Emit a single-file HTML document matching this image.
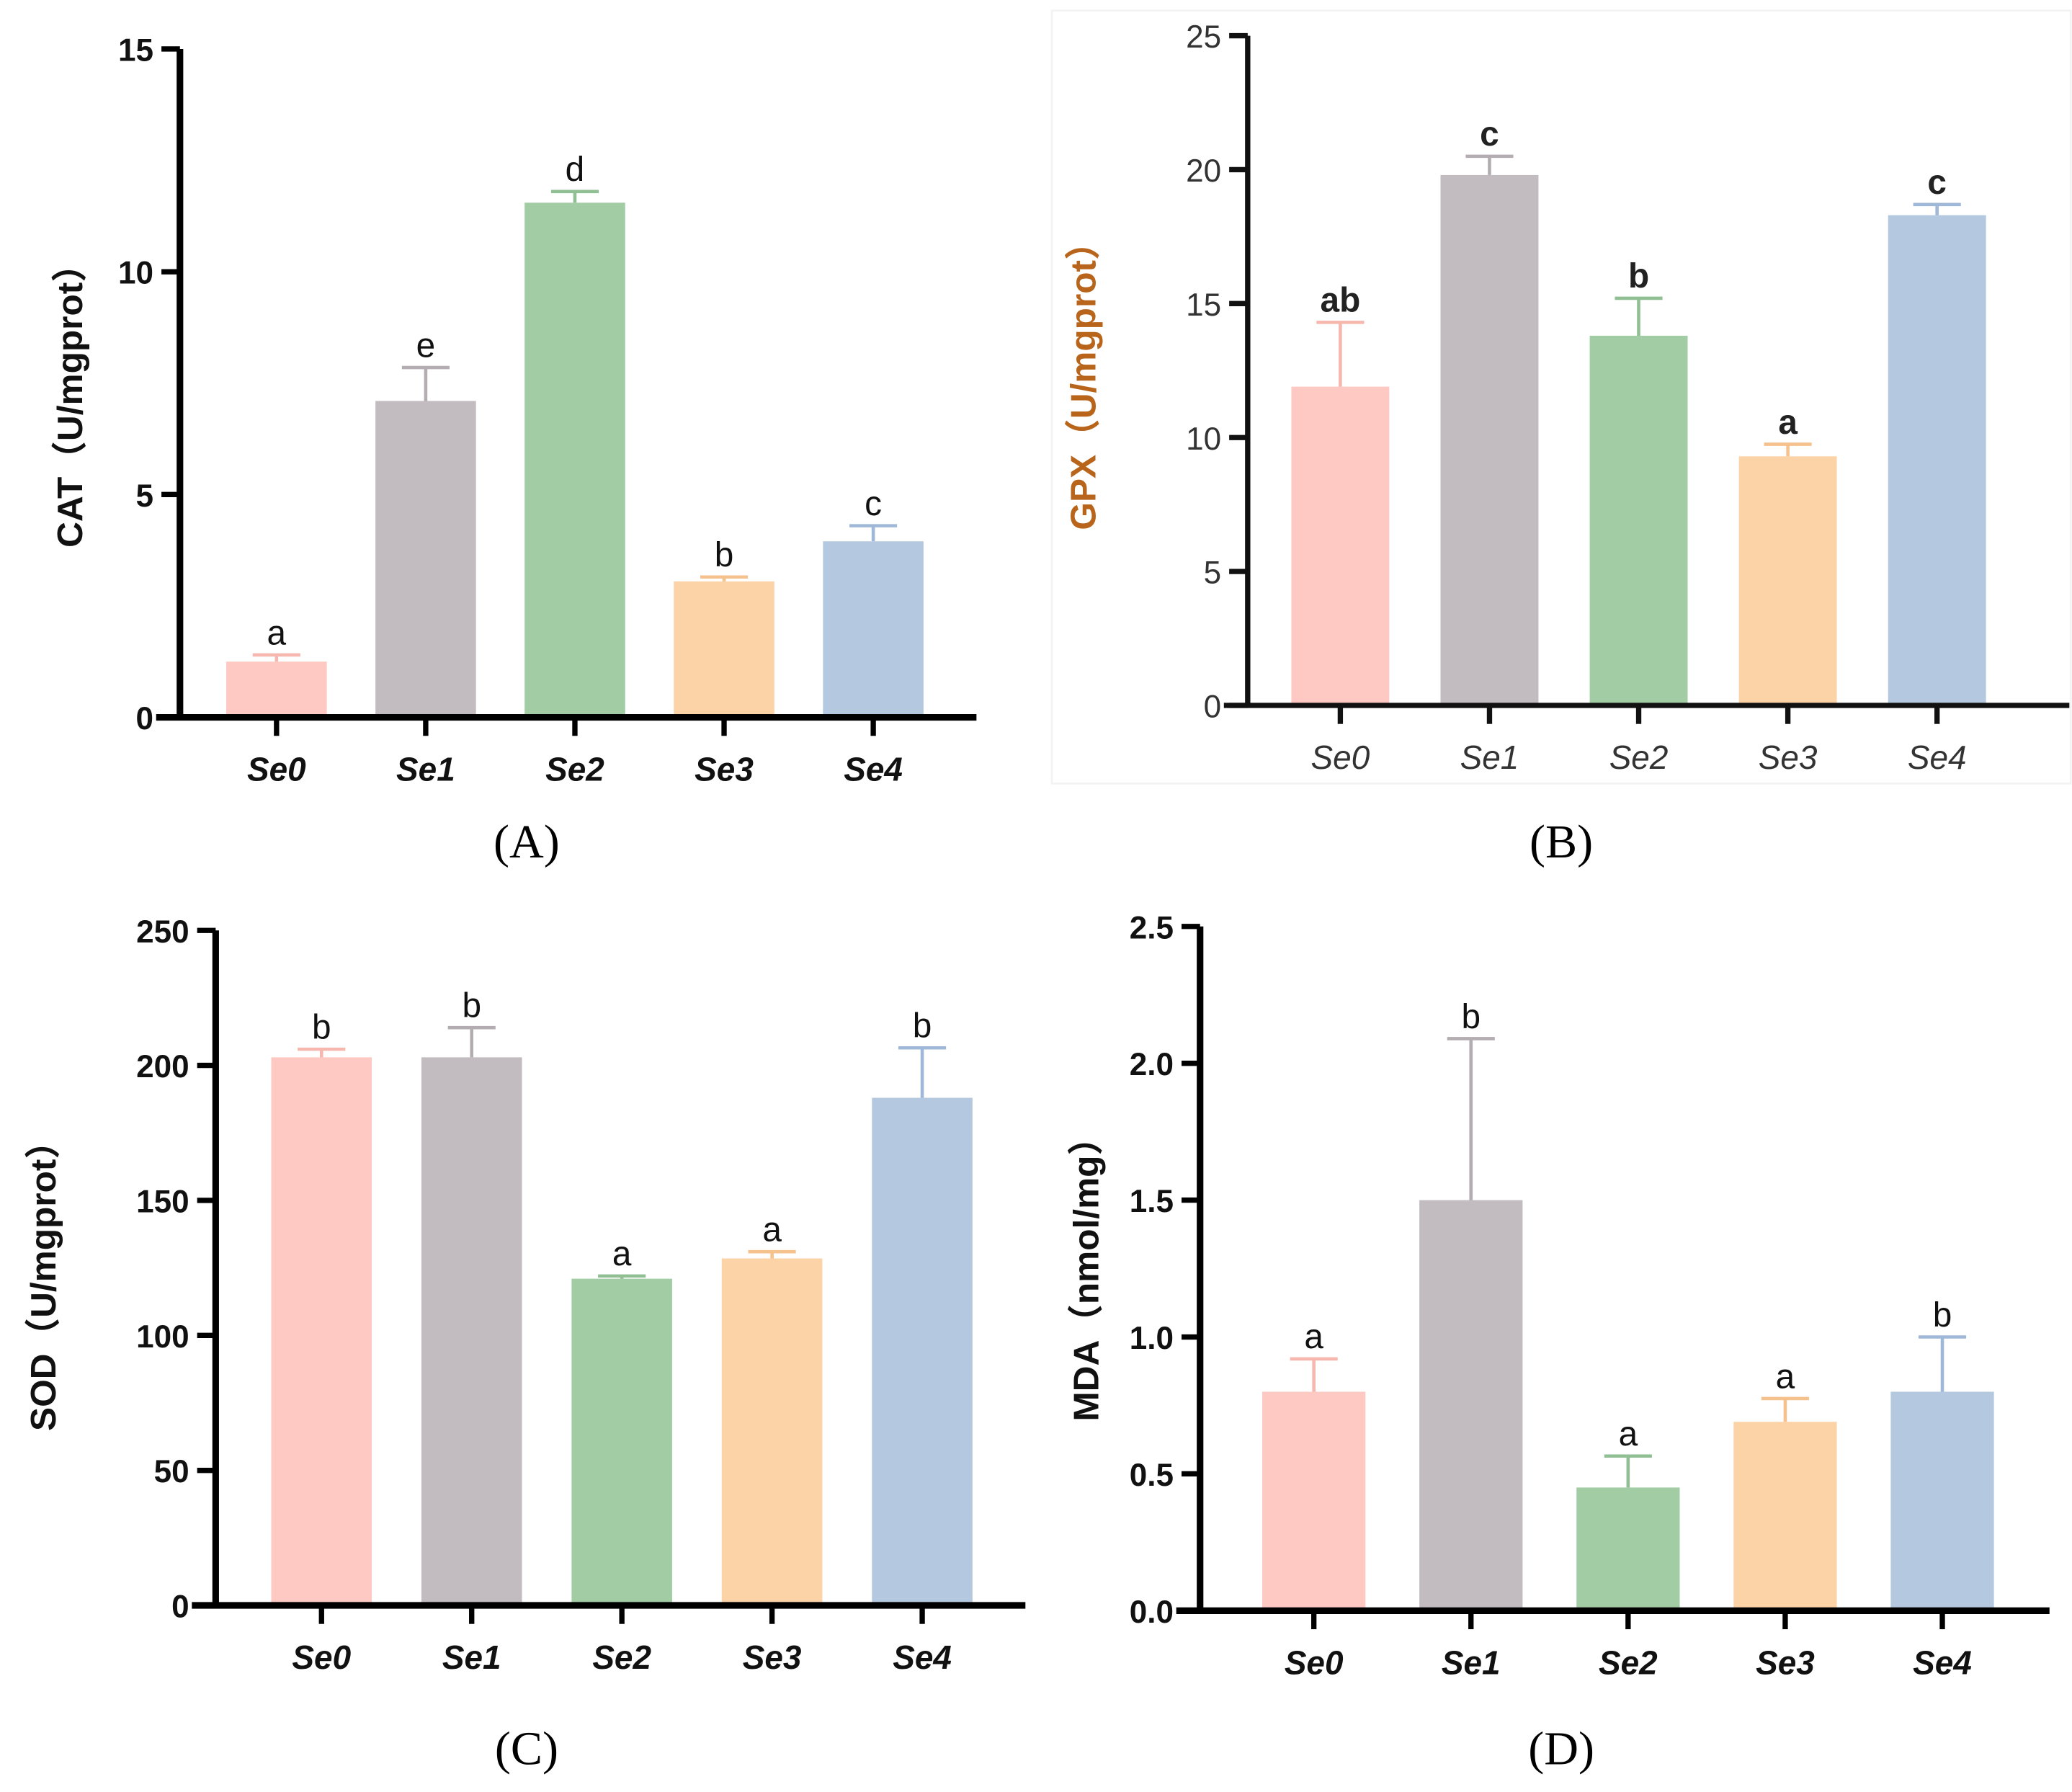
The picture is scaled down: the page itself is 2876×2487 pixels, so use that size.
<!DOCTYPE html>
<html><head><meta charset="utf-8"><style>
html,body{margin:0;padding:0;background:#fff}
svg{display:block}
text{font-family:"Liberation Sans","Noto Sans CJK SC",sans-serif}
.cap{font-family:"Liberation Serif",serif;font-size:36px;font-weight:normal}
</style></head><body>
<svg id="fig" width="2876" height="2487" viewBox="0 0 1566 1354" preserveAspectRatio="none" xmlns="http://www.w3.org/2000/svg">
<rect x="795" y="8" width="770" height="584" fill="none" stroke="#f3f3f3" stroke-width="1.5"/>
</svg>
<script>
const categories=["Se0","Se1","Se2","Se3","Se4"];
const colors=["#fdc9c2","#c2bcc1","#a2cca4","#fcd3a7","#b4c8e0"];
const errColors=["#f6b7ae","#b3acb1","#8fbf92","#f5c18d","#9fb8d8"];
const catValues=[1.25,7.1,11.55,3.05,3.95];
const catErr=[1.4,7.85,11.8,3.15,4.3];
const catLetters=["a","e","d","b","c"];
const catTicks=[0,5,10,15];
const gpxValues=[11.9,19.8,13.8,9.3,18.3];
const gpxErr=[14.3,20.5,15.2,9.75,18.7];
const gpxLetters=["ab","c","b","a","c"];
const gpxTicks=[0,5,10,15,20,25];
const sodValues=[203,203,121,128.5,188];
const sodErr=[206,214,122,131,206.5];
const sodLetters=["b","b","a","a","b"];
const sodTicks=[0,50,100,150,200,250];
const mdaValues=[0.8,1.5,0.45,0.69,0.8];
const mdaErr=[0.92,2.09,0.565,0.775,1.0];
const mdaLetters=["a","b","a","a","b"];
const mdaTicks=["0.0","0.5","1.0","1.5","2.0","2.5"];

const svg=document.getElementById('fig');
const NS="http://www.w3.org/2000/svg";
function el(t,a,txt){const e=document.createElementNS(NS,t);for(const k in a)e.setAttribute(k,a[k]);if(txt!==undefined)e.textContent=txt;svg.appendChild(e);return e;}

function panel(p){
  const yMax=parseFloat(p.ticks[p.ticks.length-1]);
  const y=v=>p.y0-(v/yMax)*(p.y0-p.yTop);
  const x=i=>p.x0c+i*p.step;
  const fw=p.bold?"bold":"normal";
  p.values.forEach((v,i)=>{
    const r=el('rect',{x:x(i)-p.bw/2,y:y(v),width:p.bw,height:p.y0-y(v),fill:colors[i]});
    
    
    const e=el('path',{d:`M${x(i)} ${y(v)}V${y(p.err[i])}M${x(i)-18} ${y(p.err[i])}H${x(i)+18}`,stroke:errColors[i],'stroke-width':2.5,fill:'none'});
    
    
    const t=el('text',{x:x(i),y:y(p.err[i])-8,'text-anchor':'middle','font-size':26,fill:p.letterColor||'#111','font-weight':p.letterBold?'bold':'normal'},p.letters[i]);
    
    
    const tk=el('line',{x1:x(i),x2:x(i),y1:p.y0,y2:p.y0+14,stroke:p.axisColor,'stroke-width':4});
    
    
    const xl=el('text',{x:x(i),y:p.y0+48,'text-anchor':'middle','font-size':25,'font-style':'italic','font-weight':fw,fill:p.xlColor||'#111'},categories[i]);
    
    
  });
  p.ticks.forEach(tv=>{
    const v=parseFloat(tv);
    const tl=el('line',{x1:p.xa-14,x2:p.xa,y1:y(v),y2:y(v),stroke:p.axisColor,'stroke-width':4});
    
    
    const tt=el('text',{x:p.xa-20,y:y(v)+9,'text-anchor':'end','font-size':24,'font-weight':fw,fill:p.xlColor||'#111'},String(tv));
    
    
  });
  const ax=el('path',{d:`M${p.xa} ${p.yTop}V${p.y0}M${p.xa-18} ${p.y0}H${p.xEnd}`,stroke:p.axisColor,'stroke-width':p.aw,fill:'none'});
  
  
  const yt=el('text',{x:0,y:0,transform:`translate(${p.titleX},${p.titleY}) rotate(-90)`,'text-anchor':'middle','font-size':27,'font-weight':'bold',fill:p.titleColor||'#111'},p.title);
  
  
  const c=el('text',{x:p.capX,y:p.capY,'text-anchor':'middle','class':'cap'},p.cap);
  
  
}
panel({id:'cat',values:catValues,err:catErr,letters:catLetters,ticks:catTicks,xa:136,yTop:37,y0:542,x0c:209,step:112.75,bw:76,xEnd:738,axisColor:'#000',aw:5,bold:true,title:'CAT（U/mgprot）',titleX:62,titleY:300,cap:'(A)',capX:398,capY:648});
panel({id:'gpx',values:gpxValues,err:gpxErr,letters:gpxLetters,ticks:gpxTicks,xa:943,yTop:27,y0:533,x0c:1013,step:112.75,bw:74,xEnd:1564,axisColor:'#111',aw:4,bold:false,letterBold:true,letterColor:'#222',xlColor:'#333',title:'GPX（U/mgprot）',titleColor:'#b8641a',titleX:828,titleY:285,cap:'(B)',capX:1180,capY:648});
panel({id:'sod',values:sodValues,err:sodErr,letters:sodLetters,ticks:sodTicks,xa:163,yTop:703,y0:1213,x0c:243,step:113.5,bw:76,xEnd:775,axisColor:'#000',aw:5,bold:true,title:'SOD（U/mgprot）',titleX:42,titleY:965,cap:'(C)',capX:398,capY:1333});
panel({id:'mda',values:mdaValues,err:mdaErr,letters:mdaLetters,ticks:mdaTicks,xa:907,yTop:700,y0:1217,x0c:993,step:118.75,bw:78,xEnd:1549,axisColor:'#000',aw:5,bold:true,title:'MDA（nmol/mg）',titleX:830,titleY:960,cap:'(D)',capX:1180,capY:1333});
</script>
</body></html>
